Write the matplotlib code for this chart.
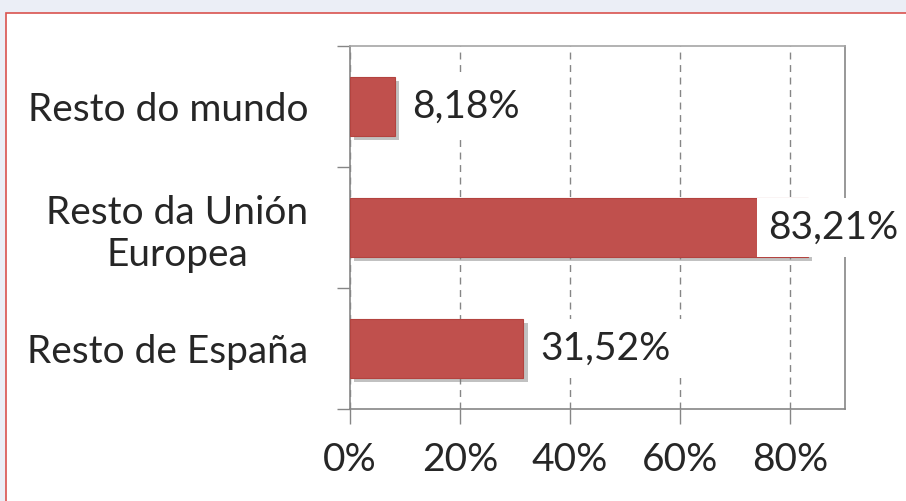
import matplotlib
matplotlib.use("Agg")
import matplotlib.pyplot as plt
import matplotlib.patches as mpatches
import matplotlib.patheffects as pe
from matplotlib.ticker import FuncFormatter

plt.rcParams['font.family'] = ['Lato', 'DejaVu Sans']

categories = ["Resto do mundo", "Resto da Unión\nEuropea", "Resto de España"]
values = [8.18, 83.21, 31.52]
value_labels = ["8,18%", "83,21%", "31,52%"]
x_ticks = [0, 20, 40, 60, 80]

W, H = 906, 501
FS = 28
txt = "#262626"
fig = plt.figure(figsize=(W / 100, H / 100), dpi=100)
fig.patch.set_facecolor("#EBEEF6")

# white panel with red edge
panel = mpatches.Rectangle((6 / W, -0.05), 1.0, (H - 13) / H + 0.05,
                           transform=fig.transFigure, facecolor="white",
                           edgecolor="#D9534F", linewidth=1.2, zorder=-5)
fig.patches.append(panel)

ax = fig.add_axes([350 / W, (H - 409) / H, (845 - 350) / W, (409 - 46) / H])
ax.set_facecolor("white")

grey = "#868686"
pos = list(range(len(categories)))
bars = ax.barh(pos, values, height=0.49, color="#C0504D", edgecolor="#B3433F",
               linewidth=0.8, zorder=3)
for b in bars:
    b.set_path_effects([pe.SimplePatchShadow(offset=(3, -3), shadow_rgbFace="#777777", alpha=0.45),
                        pe.Normal()])

ax.set_xlim(0, 90)
ax.set_ylim(len(categories) - 0.5, -0.5)

# data labels, kept inside the plot area
for p, v, lab in zip(pos, values, value_labels):
    lx = min(v, 73.0)
    ax.annotate(lab, (lx, p), xytext=(12, 0), textcoords="offset points",
                ha="left", va="center", fontsize=FS, color=txt, zorder=5,
                bbox=dict(boxstyle="square,pad=0.3", facecolor="white", edgecolor="none"),
                annotation_clip=False)

ax.set_xticks(x_ticks)
ax.xaxis.set_major_formatter(FuncFormatter(lambda x, _: f"{x:.0f}%"))
ax.grid(axis="x", color=grey, linestyle=(0, (5, 4)), linewidth=1, zorder=0)

ax.set_yticks([-0.5, 0.5, 1.5, 2.5])
ax.set_yticklabels([])
ax.set_yticks(pos, minor=True)
ax.set_yticklabels(categories, minor=True)
for t in ax.get_yticklabels(minor=True):
    t.set_multialignment("center")
ax.tick_params(axis="y", which="major", direction="out", length=9.5, width=1, color=grey)
ax.tick_params(axis="y", which="minor", length=0, pad=30, labelsize=FS, labelcolor=txt)
ax.tick_params(axis="x", direction="out", length=11, width=1, color=grey, pad=13,
               labelsize=FS, labelcolor=txt)

for side in ["left", "bottom", "right"]:
    ax.spines[side].set_color(grey)
    ax.spines[side].set_linewidth(1.2)
ax.spines["top"].set_color("#A6A6A6")
ax.spines["top"].set_linewidth(1.2)

fig.savefig("out.png", dpi=100, facecolor=fig.get_facecolor())
